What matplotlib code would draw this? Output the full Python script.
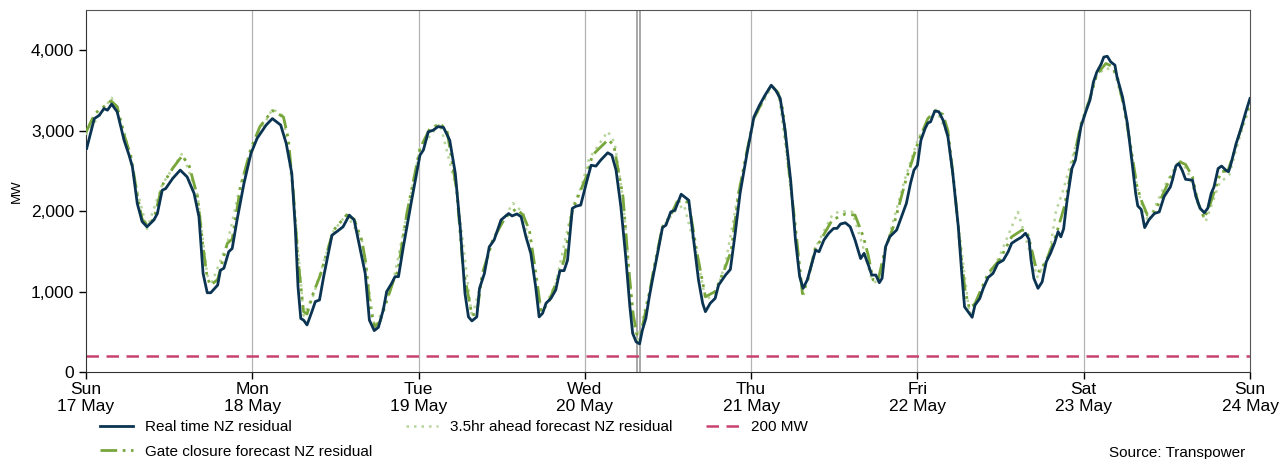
import matplotlib
matplotlib.use("Agg")
import matplotlib.pyplot as plt
from matplotlib.ticker import FuncFormatter

plt.rcParams['font.family'] = ['Liberation Sans', 'DejaVu Sans']

# hours since Sun 17 May 00:00, MW
rt_hours = [0.1, 1.2, 1.9, 2.6, 3.1, 3.7, 4.5, 5.5, 6.2, 6.7, 7.4, 8.1, 8.8, 9.8, 10.3,
            11.0, 11.5, 12.5, 13.6, 14.6, 15.6, 16.3, 16.9, 17.5, 18.0, 19.0, 19.4, 19.9,
            20.6, 21.1, 21.8, 22.8, 23.8, 24.7, 26.0, 26.9, 28.1, 28.9, 29.7, 30.2, 30.6,
            31.0, 31.4, 31.9, 32.6, 33.1, 33.7, 34.3, 35.5, 36.2, 37.1, 38.0, 38.7, 39.5,
            40.3, 40.9, 41.6, 42.2, 42.9, 43.4, 44.1, 44.6, 45.1, 45.8, 47.0, 48.2, 48.7,
            49.4, 50.1, 50.8, 51.6, 52.5, 53.3, 54.0, 54.7, 55.2, 55.7, 56.4, 56.8, 57.5,
            58.2, 58.9, 59.9, 61.0, 61.5, 62.2, 62.8, 63.5, 64.2, 64.9, 65.4, 65.9, 66.4,
            67.1, 67.8, 68.4, 69.0, 69.5, 70.2, 70.7, 71.4, 72.2, 72.9, 73.6, 74.3, 75.3,
            75.9, 76.5, 77.2, 77.9, 78.5, 78.9, 79.4, 79.9, 80.3, 80.8, 81.3, 81.8, 82.5,
            83.2, 83.7, 84.4, 85.0, 85.9, 86.7, 87.0, 87.7, 88.4, 89.0, 89.4, 90.1, 90.8,
            91.3, 92.3, 93.0, 93.7, 94.4, 95.4, 96.4, 97.2, 98.0, 98.9, 99.6, 100.2, 100.9,
            101.7, 102.4, 103.0, 103.5, 104.1, 104.7, 105.3, 105.8, 106.5, 107.2, 107.9,
            108.4, 108.9, 109.6, 110.3, 111.0, 111.8, 112.3, 113.0, 113.4, 114.0, 114.5,
            114.9, 115.4, 116.0, 117.0, 117.7, 118.4, 119.0, 119.5, 120.0, 120.5, 121.1,
            121.5, 121.9, 122.5, 123.1, 123.7, 124.4, 125.1, 125.9, 126.4, 126.8, 127.3,
            127.9, 128.3, 129.0, 129.5, 130.2, 130.9, 131.6, 132.4, 133.1, 133.6, 134.3,
            135.0, 135.6, 136.1, 136.4, 136.8, 137.4, 138.0, 138.6, 139.2, 139.8, 140.3,
            140.7, 141.1, 141.6, 142.3, 142.8, 143.6, 144.3, 144.9, 145.4, 145.9, 146.5,
            146.9, 147.4, 147.9, 148.5, 148.8, 149.6, 150.3, 151.0, 151.5, 151.8, 152.3,
            152.8, 153.4, 154.2, 154.9, 155.6, 156.5, 156.8, 157.3, 157.7, 158.2, 158.7,
            159.7, 160.2, 160.8, 161.4, 161.9, 162.4, 162.8, 163.4, 163.9, 164.5, 164.9,
            165.2, 166.0, 166.7, 167.4, 168.0]
rt_mw = [2780, 3150, 3190, 3275, 3255, 3330, 3235, 2880, 2700, 2550, 2095, 1870, 1805, 1890, 1970,
         2260, 2280, 2405, 2510, 2425, 2220, 1930, 1225, 985, 985, 1080, 1265, 1290,
         1495, 1535, 1890, 2345, 2715, 2905, 3070, 3150, 3070, 2840, 2470, 1805, 1060,
         665, 645, 585, 750, 875, 895, 1185, 1700, 1745, 1805, 1950, 1890, 1555,
         1225, 645, 515, 555, 770, 1000, 1100, 1185, 1185, 1555, 2135, 2695, 2760,
         2985, 3005, 3050, 3040, 2880, 2470, 1805, 975, 685, 635, 685, 1040, 1225,
         1555, 1640, 1890, 1970, 1940, 1965, 1930, 1680, 1475, 1060, 685, 730, 855,
         915, 1020, 1260, 1260, 1390, 2035, 2060, 2075, 2345, 2570, 2560, 2635, 2725,
         2695, 2510, 2055, 1430, 810, 480, 375, 350, 520, 665, 935, 1165, 1475,
         1795, 1825, 1990, 2010, 2210, 2155, 2135, 1640, 1145, 855, 750, 855, 915,
         1080, 1205, 1275, 1725, 2220, 2715, 3170, 3315, 3440, 3565, 3495, 3400, 3005,
         2385, 1640, 1185, 1040, 1145, 1330, 1515, 1495, 1640, 1725, 1785,
         1785, 1840, 1855, 1805, 1640, 1410, 1475, 1310, 1205, 1205, 1110,
         1165, 1555, 1680, 1765, 1930, 2095, 2345, 2510, 2570, 2880, 3025,
         3095, 3110, 3245, 3235, 3130, 2925, 2470, 1805, 1225, 810, 750,
         680, 830, 915, 1040, 1175, 1225, 1350, 1390, 1495, 1600, 1640,
         1675, 1725, 1650, 1390, 1165, 1040, 1120, 1370, 1475, 1605, 1745,
         1680, 1780, 2135, 2530, 2635, 3050, 3235, 3380, 3605, 3730, 3825,
         3915, 3925, 3855, 3815, 3670, 3420, 3090, 2590, 2220, 2065, 2020,
         1795, 1890, 1970, 1990, 2180, 2300, 2385, 2560, 2590, 2510, 2395,
         2385, 2180, 2035, 1980, 2035, 2220, 2300, 2530, 2560, 2510, 2490,
         2570, 2840, 3025, 3235, 3400]

gc_hours = [0.0, 1.2, 1.9, 2.6, 3.6, 4.5, 5.5, 6.5, 7.4, 8.1, 8.8, 9.8, 11.0, 12.5, 13.9,
            14.9, 16.1, 16.9, 17.5, 18.0, 19.0, 20.4, 21.1, 22.3, 23.8, 25.1, 26.9, 28.5,
            29.2, 29.9, 30.6, 31.4, 31.9, 32.8, 33.8, 35.7, 37.6, 38.7, 39.8, 40.4, 41.0,
            41.7, 42.4, 44.4, 45.0, 46.3, 48.2, 49.6, 51.1, 52.1, 53.5, 54.4, 55.7, 56.4,
            57.2, 58.7, 60.5, 62.1, 63.1, 64.0, 64.8, 65.7, 66.7, 67.8, 69.0, 70.2, 72.2,
            73.1, 74.2, 75.4, 76.2, 77.5, 78.4, 79.0, 79.6, 80.1, 81.3, 82.1, 83.2, 84.4,
            85.3, 86.3, 87.0, 88.2, 89.4, 90.8, 92.3, 93.1, 94.2, 95.4, 96.4, 98.0, 98.9,
            99.9, 100.6, 101.4, 102.4, 103.4, 104.2, 105.3, 105.9, 107.7, 109.6, 111.0,
            112.2, 112.9, 113.6, 114.3, 115.3, 116.5, 118.2, 120.1, 121.5, 122.7, 123.7,
            124.4, 125.4, 126.1, 126.9, 127.5, 128.3, 130.2, 131.9, 133.6, 135.1, 135.8,
            136.4, 137.2, 137.7, 138.8, 140.0, 141.2, 142.3, 143.6, 144.9, 145.9, 147.2,
            148.1, 148.9, 149.8, 150.7, 151.7, 152.4, 153.2, 154.3, 155.6, 156.7, 157.9,
            158.7, 159.7, 160.5, 161.4, 162.3, 163.8, 164.8, 165.6, 166.6, 168.0]
gc_mw = [2980, 3200, 3260, 3300, 3370, 3300, 2950, 2675, 2200, 1900, 1830, 1900, 2320, 2530, 2690,
         2560, 2180, 1550, 1170, 1080, 1150, 1600, 1650, 2300, 2780, 3050, 3250, 3170,
         2900, 2260, 1400, 750, 720, 980, 1200, 1760, 1950, 1900, 1640, 1350, 800,
         565, 620, 1140, 1250, 1970, 2780, 3020, 3090, 3000, 2260, 1300, 710, 720,
         1225, 1640, 1920, 2030, 1950, 1760, 1300, 750, 850, 1100, 1390, 2010, 2425,
         2695, 2790, 2890, 2810, 2180, 1225, 700, 440, 480, 975, 1350, 1805, 1950,
         2115, 2135, 2100, 1475, 935, 1000, 1310, 1500, 2220, 2750, 3150, 3430, 3565,
         3470, 3250, 2550, 1800, 975, 1150, 1555, 1620, 1890, 1965, 1950,
         1680, 1450, 1145, 1130, 1515, 1800, 2345, 2860, 3150, 3255, 3200,
         3000, 2260, 1600, 1000, 790, 850, 1225, 1400, 1680, 1765, 1750,
         1555, 1265, 1250, 1430, 1700, 2055, 2550, 3080, 3400, 3700, 3835,
         3800, 3650, 3295, 2850, 2300, 2115, 1950, 2000, 2240, 2450, 2610,
         2580, 2425, 2100, 1910, 2100, 2490, 2500, 2700, 3000, 3350]

ah_hours = [0.0, 3.7, 5.5, 7.4, 8.8, 11.0, 13.9, 16.1, 17.5, 18.2, 20.4, 22.3, 24.0, 26.9,
            28.5, 29.9, 31.4, 32.8, 35.7, 37.6, 39.8, 41.7, 44.4, 46.3, 48.2, 51.1, 53.5,
            55.7, 58.7, 61.6, 63.1, 65.7, 67.8, 70.2, 71.5, 72.6, 74.2, 75.3, 76.3, 77.5,
            79.0, 79.6, 81.3, 83.2, 85.0, 86.3, 88.2, 89.4, 90.8, 92.3, 94.2, 96.4, 98.0,
            99.0, 100.0, 101.4, 103.5, 105.3, 107.7, 108.8, 110.6, 112.0, 113.4, 114.3,
            115.3, 118.2, 120.1, 122.7, 124.4, 125.4, 127.5, 129.5, 131.9, 134.5, 137.3,
            139.0, 140.0, 141.0, 143.6, 145.9, 147.3, 148.5, 149.8, 151.7, 152.5, 153.3,
            155.6, 157.8, 159.0, 160.5, 161.6, 163.6, 165.0, 166.6, 168.0]
ah_mw = [2950, 3410, 3000, 2250, 1780, 2330, 2720, 2200, 1200, 1120, 1600, 2330, 2800, 3270,
         3180, 2250, 700, 950, 1750, 1960, 1650, 520, 1150, 1950, 2780, 3090, 2260,
         680, 1650, 2100, 1980, 720, 1100, 2050, 2300, 2650, 2850, 2990, 2850, 2150,
         600, 400, 1000, 1800, 2000, 2080, 1450, 900, 960, 1350, 2250, 3150, 3400,
         3550, 3450, 2500, 930, 1550, 1950, 2000, 1990, 1600, 1150, 1100,
         1500, 2400, 2900, 3260, 2950, 2200, 720, 1050, 1450, 1990, 1180,
         1450, 2000, 2250, 3050, 3700, 3780, 3720, 3300, 2300, 2050, 1870,
         2300, 2640, 2500, 2100, 1870, 2350, 2450, 2950, 3300]

day_hours = [0, 24, 48, 72, 96, 120, 144, 168]
day_labels = ["Sun\n17 May", "Mon\n18 May", "Tue\n19 May", "Wed\n20 May",
              "Thu\n21 May", "Fri\n22 May", "Sat\n23 May", "Sun\n24 May"]
marker_hours = [79.5, 80.0]
threshold = 200

fig = plt.figure(figsize=(12.8, 4.59), dpi=100)
ax = fig.add_axes([86/1280, 1 - 372/459, 1164/1280, 362/459])

for d in day_hours[1:-1]:
    ax.axvline(d, color="#b4b4b4", lw=0.9, zorder=1)
for m in marker_hours:
    ax.axvline(m, color="#a8a8a8", lw=1.4, zorder=1)

l200, = ax.plot([0, 168], [threshold, threshold], color="#c8426e", lw=1.8,
                dashes=(5, 3), label="200 MW", zorder=2)
lah, = ax.plot(ah_hours, ah_mw, color="#b7d49c", lw=1.8, linestyle=(0, (1, 2)),
               label="3.5hr ahead forecast NZ residual", zorder=3)
lgc, = ax.plot(gc_hours, gc_mw, color="#77a63b", lw=2.0, linestyle=(0, (6, 2, 1, 2, 1, 2)),
               label="Gate closure forecast NZ residual", zorder=4)
lrt, = ax.plot(rt_hours, rt_mw, color="#0a3452", lw=2.0, label="Real time NZ residual", zorder=5)

ax.set_xlim(0, 168)
ax.set_ylim(0, 4500)
ax.set_xticks(day_hours)
ax.set_xticklabels(day_labels, fontsize=12.5, linespacing=1.15)
ax.set_yticks([0, 1000, 2000, 3000, 4000])
ax.yaxis.set_major_formatter(FuncFormatter(lambda v, p: f"{int(v):,}"))
ax.tick_params(axis="y", labelsize=12.5, length=5, width=1)
ax.tick_params(axis="x", length=5, width=1, pad=2)
ax.set_ylabel("MW", fontsize=9.5, labelpad=6)
for s in ax.spines.values():
    s.set_color("#555555")
ax.spines["left"].set_color("#333333")
ax.spines["bottom"].set_color("#333333")

fig.legend([lrt, lgc, lah, l200],
           [lrt.get_label(), lgc.get_label(), lah.get_label(), l200.get_label()],
           loc="upper left", bbox_to_anchor=(100/1280, 1 - 420/459), ncol=3,
           frameon=False, fontsize=11, borderpad=0, borderaxespad=0,
           handlelength=2.15, handletextpad=0.78, columnspacing=2.2, labelspacing=0.7)

fig.text(1245/1280, 1 - 457/459, "Source: Transpower", ha="right", va="baseline", fontsize=11)

fig.savefig("out.png", dpi=100)
